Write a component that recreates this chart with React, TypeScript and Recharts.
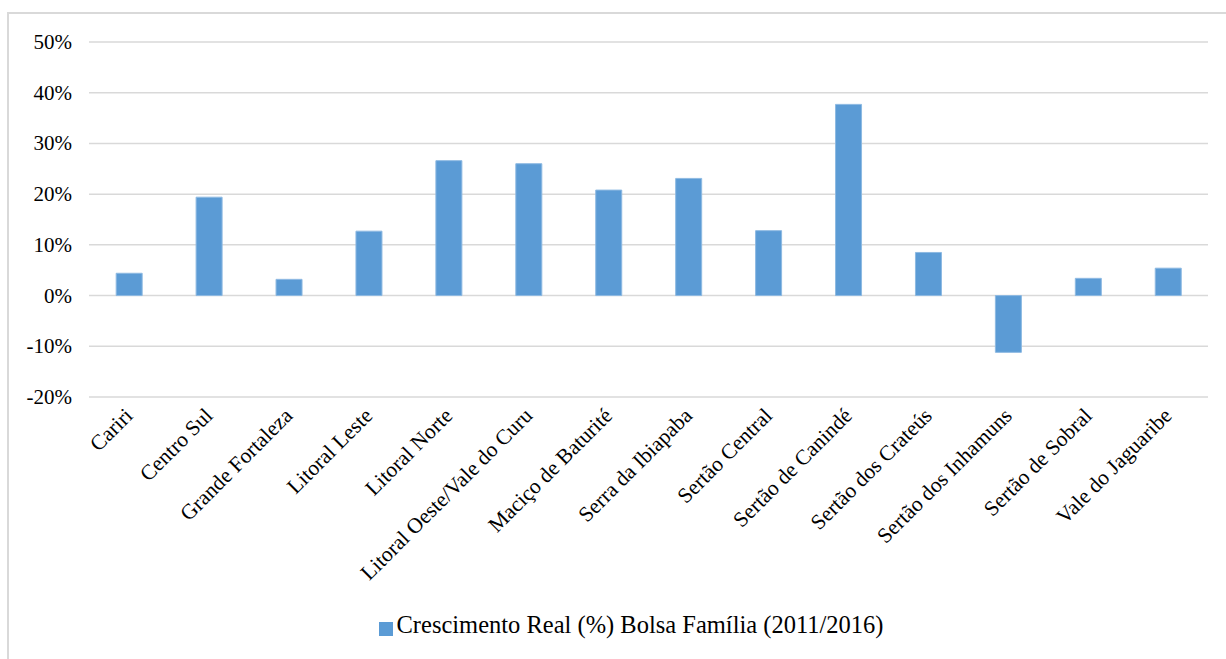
import { Bar, BarChart, CartesianGrid, Legend, XAxis, YAxis } from "recharts"

const regions = [
  "Cariri",
  "Centro Sul",
  "Grande Fortaleza",
  "Litoral Leste",
  "Litoral Norte",
  "Litoral Oeste/Vale do Curu",
  "Maciço de Baturité",
  "Serra da Ibiapaba",
  "Sertão Central",
  "Sertão de Canindé",
  "Sertão dos Crateús",
  "Sertão dos Inhamuns",
  "Sertão de Sobral",
  "Vale do Jaguaribe",
]

const growth = [4.4, 19.4, 3.2, 12.7, 26.6, 26.0, 20.8, 23.1, 12.8, 37.7, 8.5, -11.2, 3.4, 5.4]

const yTicks = [-20, -10, 0, 10, 20, 30, 40, 50]

const data = regions.map((name, i) => ({ name, value: growth[i] }))

const font = "Liberation Serif"

function RotatedTick(props: any) {
  const { x, y, payload } = props
  return (
    <g transform={`translate(${x + 5},${y + 20})`}>
      <text transform="rotate(-45)" textAnchor="end" fill="#000" fontSize={21.5} fontFamily={font}>
        {payload.value}
      </text>
    </g>
  )
}

function YTick(props: any) {
  const { x, y, payload } = props
  return (
    <text x={x} y={y} dy={7} textAnchor="end" fill="#000" fontSize={21} fontFamily={font}>
      {`${payload.value}%`}
    </text>
  )
}

export default function App() {
  return (
    <div
      style={{
        position: "absolute",
        left: 0,
        top: 0,
        width: 1226,
        height: 659,
        background: "#fff",
        fontFamily: font,
      }}
    >
      <div
        style={{
          position: "absolute",
          left: 7,
          top: 12,
          width: 1219,
          height: 647,
          borderTop: "2px solid #d9d9d9",
          borderLeft: "2px solid #d9d9d9",
          boxSizing: "border-box",
        }}
      />
      <BarChart
        width={1226}
        height={659}
        data={data}
        margin={{ top: 42, right: 18, left: 0, bottom: 20 }}
        barCategoryGap="34%"
        style={{ position: "absolute", left: 0, top: 0, fontFamily: font }}
      >
        <CartesianGrid vertical={false} stroke="#d9d9d9" strokeWidth={1.5} />
        <XAxis
          dataKey="name"
          interval={0}
          height={214}
          tick={<RotatedTick />}
          tickLine={false}
          axisLine={false}
          tickSize={0}
          tickMargin={0}
        />
        <YAxis
          width={89}
          domain={[-20, 50]}
          ticks={yTicks}
          tickLine={false}
          axisLine={false}
          tickSize={0}
          tickMargin={17}
          tick={<YTick />}
        />
        <Legend
          verticalAlign="bottom"
          iconType="square"
          iconSize={14}
          wrapperStyle={{ left: 0, width: 1180, paddingLeft: 46 }}
          formatter={(v) => (
            <span style={{ color: "#000", fontSize: 24.5, fontFamily: font }}>{v}</span>
          )}
        />
        <Bar
          dataKey="value"
          name="Crescimento Real (%) Bolsa Família (2011/2016)"
          fill="#5b9bd5"
          stroke="#8db9e2"
          strokeWidth={1}
          isAnimationActive={false}
        />
      </BarChart>
    </div>
  )
}
